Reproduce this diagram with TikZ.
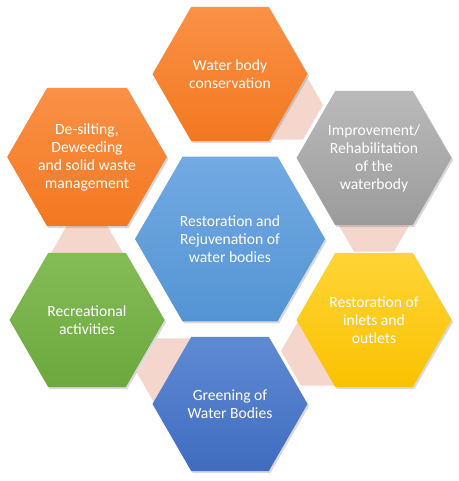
\documentclass[tikz,border=0pt]{standalone}
\usepackage{fontspec}
\setmainfont{Carlito}
\usetikzlibrary{shapes.geometric,shadows}
\definecolor{linkpink}{RGB}{245,214,204}
\definecolor{orangetop}{RGB}{250,145,70}
\definecolor{orangebot}{RGB}{243,120,32}
\definecolor{graytop}{RGB}{186,186,186}
\definecolor{graybot}{RGB}{155,155,155}
\definecolor{yellowtop}{RGB}{255,212,55}
\definecolor{yellowbot}{RGB}{250,194,0}
\definecolor{bluetop}{RGB}{95,138,212}
\definecolor{bluebot}{RGB}{64,108,192}
\definecolor{greentop}{RGB}{132,188,86}
\definecolor{greenbot}{RGB}{108,168,62}
\definecolor{midtop}{RGB}{114,170,226}
\definecolor{midbot}{RGB}{84,148,212}

\begin{document}
\begin{tikzpicture}[x=0.75pt, y=-0.75pt,
  hexa/.style = {regular polygon, regular polygon sides=6, minimum size=116.25pt,
    inner sep=0pt, outer sep=0pt, align=center, text=white,
    font=\fontsize{11.7}{13.5}\selectfont,
    drop shadow={shadow xshift=1.2pt, shadow yshift=-1.5pt, opacity=0.3}},
  link/.style = {regular polygon, regular polygon sides=6, minimum size=60pt,
    inner sep=0pt, outer sep=0pt, fill=linkpink}
]
\useasboundingbox (0,0) rectangle (459,481);

% pink pieces between the outer hexagons
\node[link] (l1) at (283,105) {};
\node[link] (l2) at (374,217) {};
\node[link] (l3) at (321,351) {};
\node[link] (l4) at (177,373) {};
\node[link] (l5) at (87,260) {};

% outer ring
\node[hexa, top color=orangetop, bottom color=orangebot] (cons) at (230,74)
  {Water body\\conservation};
\node[hexa, top color=graytop, bottom color=graybot] (impr) at (374,158)
  {Improvement/\\Rehabilitation\\of the\\waterbody};
\node[hexa, top color=yellowtop, bottom color=yellowbot] (inlet) at (374,320)
  {Restoration of\\inlets and\\outlets};
\node[hexa, top color=bluetop, bottom color=bluebot] (green) at (230,404)
  {Greening of\\Water Bodies};
\node[hexa, top color=greentop, bottom color=greenbot] (recr) at (87,320)
  {Recreational\\activities};
\node[hexa, top color=orangetop, bottom color=orangebot] (silt) at (87,157)
  {De-silting,\\Deweeding\\and solid waste\\management};

% centre
\node[hexa, minimum size=142.5pt, top color=midtop, bottom color=midbot] (main) at (230,239)
  {Restoration and\\Rejuvenation of\\water bodies};
\end{tikzpicture}
\end{document}
